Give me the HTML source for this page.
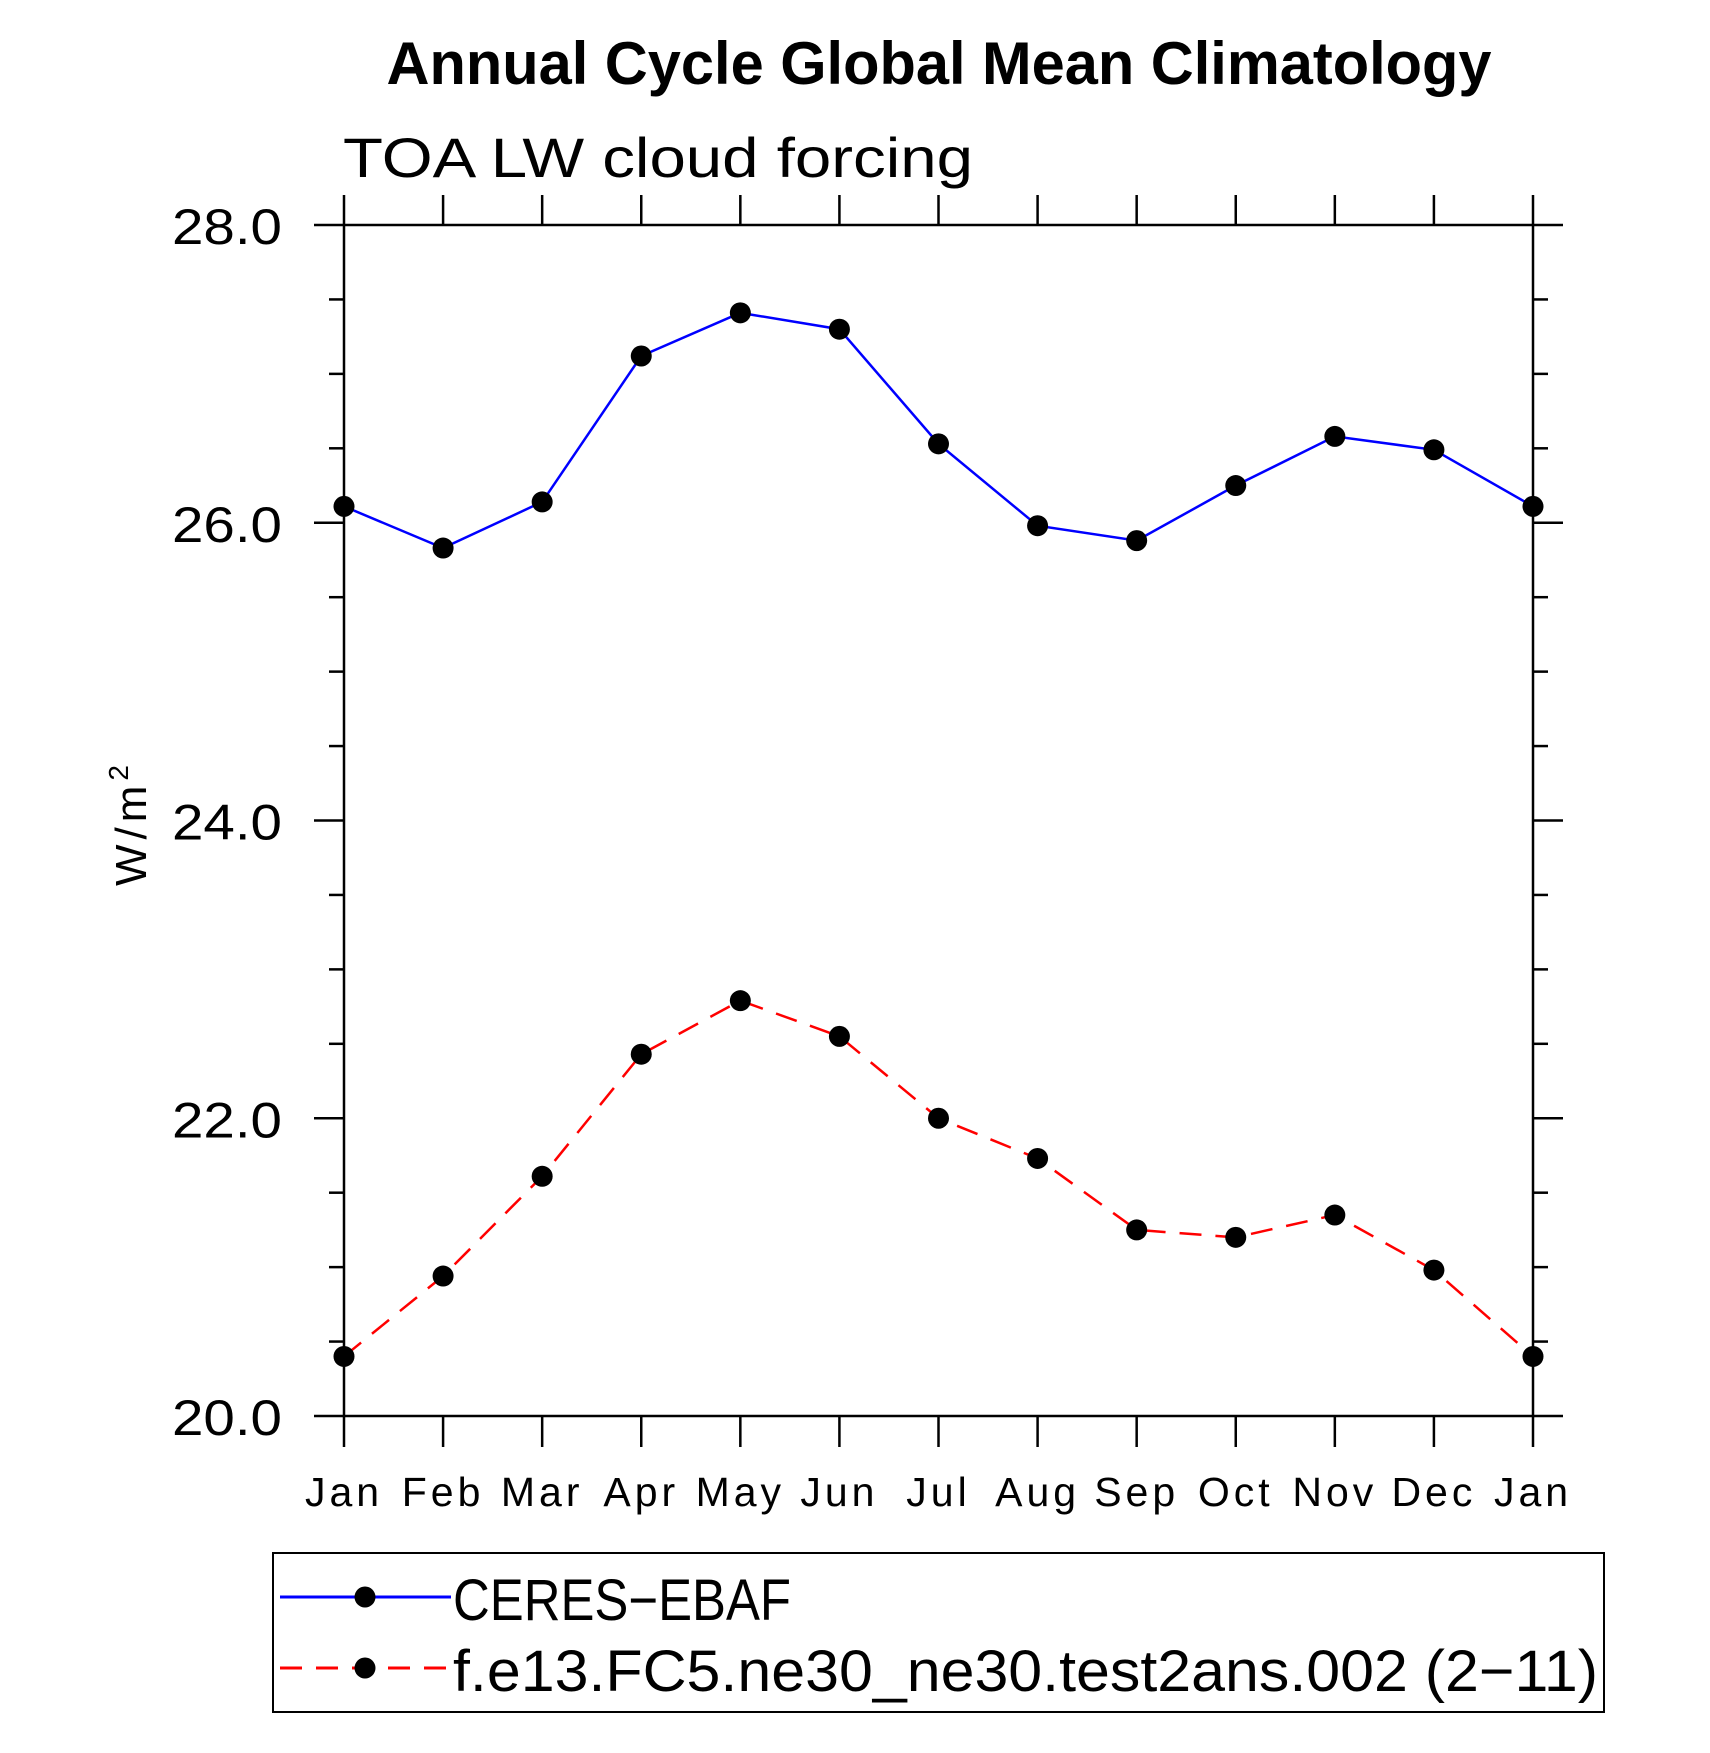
<!DOCTYPE html>
<html><head><meta charset="utf-8"><style>
html,body{margin:0;padding:0;background:#fff;}
svg{display:block;font-family:"Liberation Sans",sans-serif;}
</style></head><body>
<svg id="chart" width="1710" height="1753" viewBox="0 0 1710 1753" xmlns="http://www.w3.org/2000/svg">
<text x="939" y="84" font-size="60" font-weight="bold" text-anchor="middle" textLength="1105" lengthAdjust="spacingAndGlyphs">Annual Cycle Global Mean Climatology</text>
<text x="343" y="177" font-size="56" textLength="630" lengthAdjust="spacingAndGlyphs">TOA LW cloud forcing</text>
<text transform="translate(146,823) rotate(-90)" font-size="44" text-anchor="middle" letter-spacing="5">W/m<tspan font-size="28" dy="-18">2</tspan></text>
<g id="axes"></g>
<g id="series"></g>
<rect x="273" y="1553" width="1331" height="159" fill="none" stroke="#000" stroke-width="2"/>
<line x1="280" y1="1597" x2="451" y2="1597" stroke="#0000ff" stroke-width="3"/>
<circle cx="365" cy="1597" r="10.5" fill="#000"/>
<text x="453" y="1620" font-size="58" textLength="338" lengthAdjust="spacingAndGlyphs">CERES−EBAF</text>
<line x1="280" y1="1668" x2="451" y2="1668" stroke="#ff0000" stroke-width="3" stroke-dasharray="22,14"/>
<circle cx="365" cy="1668" r="10.5" fill="#000"/>
<text x="453" y="1691" font-size="58" textLength="1145" lengthAdjust="spacingAndGlyphs">f.e13.FC5.ne30_ne30.test2ans.002 (2−11)</text>
</svg>
<script>
const months = ["Jan","Feb","Mar","Apr","May","Jun","Jul","Aug","Sep","Oct","Nov","Dec","Jan"];
const ceresValues = [26.11,25.83,26.14,27.12,27.41,27.30,26.53,25.98,25.88,26.25,26.58,26.49,26.11];
const modelValues = [20.40,20.94,21.61,22.43,22.79,22.55,22.00,21.73,21.25,21.20,21.35,20.98,20.40];
const yTickLabels = ["20.0","22.0","24.0","26.0","28.0"];
const yMin = 20, yMax = 28;

const NS = "http://www.w3.org/2000/svg";
const L = 344, R = 1533, T = 225, B = 1416;
function xs(i){ return L + (R - L) * i / (months.length - 1); }
function ys(v){ return B - (B - T) * (v - yMin) / (yMax - yMin); }
function mk(tag, attrs, parent){ const e = document.createElementNS(NS, tag); for (const k in attrs) e.setAttribute(k, attrs[k]); parent.appendChild(e); return e; }
const axes = document.getElementById("axes");
const series = document.getElementById("series");

const frame = mk("rect", {x:L, y:T, width:R-L, height:B-T, fill:"none", stroke:"#000", "stroke-width":2.5}, axes);



months.forEach((m, i) => {
  const x = xs(i);
  const tb = mk("line", {x1:x, y1:B, x2:x, y2:B+31, stroke:"#000", "stroke-width":2.5}, axes);
  
  
  const tt = mk("line", {x1:x, y1:T, x2:x, y2:T-30, stroke:"#000", "stroke-width":2.5}, axes);
  
  
  const lb = mk("text", {x:x, y:1506, "font-size":41, "text-anchor":"middle", "letter-spacing":"4"}, axes);
  lb.textContent = m;
  
  
});

for (let v = yMin; v <= yMax + 1e-9; v += 0.5) {
  const y = ys(v);
  const major = Math.abs(v % 2) < 1e-9;
  const len = major ? 30 : 15;
  const tl = mk("line", {x1:L-len, y1:y, x2:L, y2:y, stroke:"#000", "stroke-width":2.5}, axes);
  
  
  const tr = mk("line", {x1:R, y1:y, x2:R+len, y2:y, stroke:"#000", "stroke-width":2.5}, axes);
  
  
}
yTickLabels.forEach(s => {
  const y = ys(parseFloat(s));
  const t = mk("text", {x:172, y:y+19, "font-size":50, textLength:110, lengthAdjust:"spacingAndGlyphs"}, axes);
  t.textContent = s;
  
  
});

function drawSeries(vals, color, dash, name){
  const pts = vals.map((v, i) => xs(i) + "," + ys(v)).join(" ");
  const attrs = {points:pts, fill:"none", stroke:color, "stroke-width":2.5};
  if (dash) attrs["stroke-dasharray"] = dash;
  const pl = mk("polyline", attrs, series);
  
  
  vals.forEach((v, i) => {
    const c = mk("circle", {cx:xs(i), cy:ys(v), r:10.5, fill:"#000"}, series);
    
    
  });
}
drawSeries(ceresValues, "#0000ff", null, "ceres");
drawSeries(modelValues, "#ff0000", "22,14", "model");
</script>
</body></html>
